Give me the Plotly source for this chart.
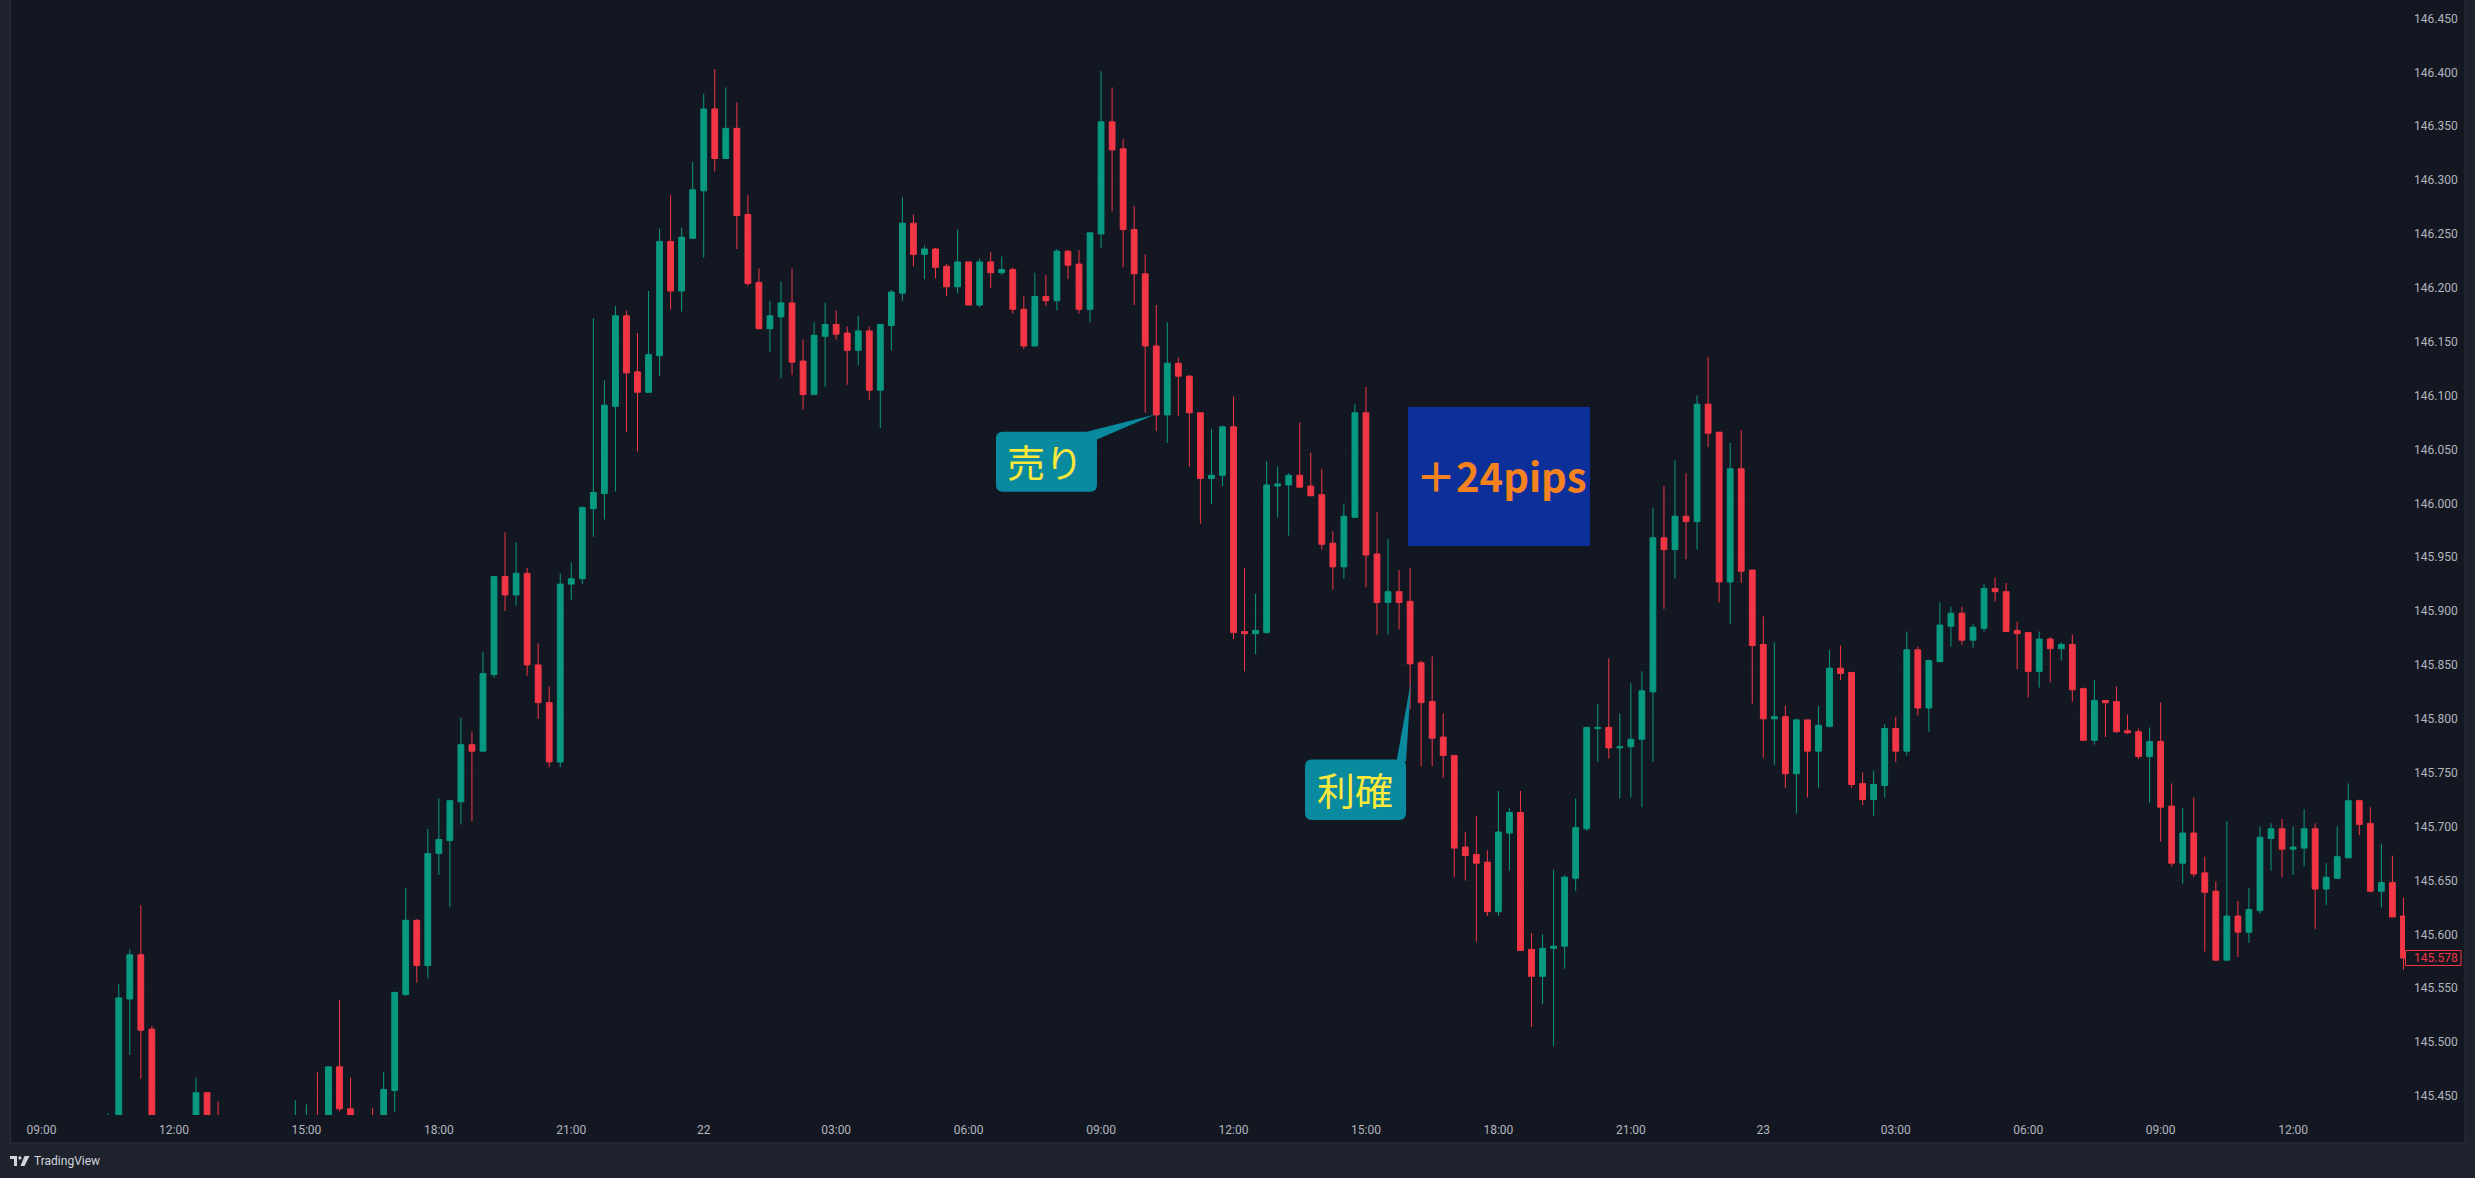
import plotly.graph_objects as go
import pandas as pd

# ---------------- data (15-minute USD/JPY bars, index = bars since 21日 09:00) ----------------
START = pd.Timestamp("2023-08-21 09:00")
STEP = pd.Timedelta(minutes=15)

bar_index = [6, 7, 8, 9, 10, 14, 15, 16, 23, 24, 25, 26, 27, 28, 30, 31, 32, 33, 34, 35,
             36, 37, 38, 39, 40, 41, 42, 43, 44, 45, 46, 47, 48, 49, 50, 51, 52, 53, 54, 55,
             56, 57, 58, 59, 60, 61, 62, 63, 64, 65, 66, 67, 68, 69, 70, 71, 72, 73, 74, 75,
             76, 77, 78, 79, 80, 81, 82, 83, 84, 85, 86, 87, 88, 89, 90, 91, 92, 93, 94, 95,
             96, 97, 98, 99, 100, 101, 102, 103, 104, 105, 106, 107, 108, 109, 110, 111, 112, 113, 114, 115,
             116, 117, 118, 119, 120, 121, 122, 123, 124, 125, 126, 127, 128, 129, 130, 131, 132, 133, 134, 135,
             136, 137, 138, 139, 140, 141, 142, 143, 144, 145, 146, 147, 148, 149, 150, 151, 152, 153, 154, 155,
             156, 157, 158, 159, 160, 161, 162, 163, 164, 165, 166, 167, 168, 169, 170, 171, 172, 173, 174, 175,
             176, 177, 178, 179, 180, 181, 182, 183, 184, 185, 186, 187, 188, 189, 190, 191, 192, 193, 194, 195,
             196, 197, 198, 199, 200, 201, 202, 203, 204, 205, 206, 207, 208, 209, 210, 211, 212, 213, 214]

opens = [145.405, 145.420, 145.540, 145.581, 145.512, 145.420, 145.453, 145.425, 145.410, 145.420,
         145.425, 145.415, 145.477, 145.438, 145.425, 145.420, 145.455, 145.544, 145.613, 145.571,
         145.675, 145.687, 145.723, 145.776, 145.770, 145.841, 145.932, 145.915, 145.935, 145.850,
         145.815, 145.760, 145.925, 145.930, 145.995, 146.009, 146.090, 146.174, 146.122, 146.103,
         146.137, 146.243, 146.197, 146.246, 146.290, 146.366, 146.320, 146.348, 146.268, 146.205,
         146.162, 146.173, 146.186, 146.132, 146.101, 146.155, 146.166, 146.158, 146.142, 146.160,
         146.105, 146.165, 146.195, 146.260, 146.231, 146.236, 146.220, 146.201, 146.224, 146.184,
         146.224, 146.214, 146.217, 146.180, 146.146, 146.192, 146.188, 146.234, 146.222, 146.180,
         146.250, 146.354, 146.329, 146.254, 146.213, 146.146, 146.082, 146.130, 146.118, 146.084,
         146.023, 146.026, 146.071, 145.881, 145.879, 145.880, 146.016, 146.017, 146.026, 146.016,
         146.008, 145.963, 145.941, 145.987, 146.084, 145.953, 145.908, 145.918, 145.909, 145.852,
         145.816, 145.783, 145.766, 145.681, 145.674, 145.667, 145.621, 145.694, 145.713, 145.586,
         145.561, 145.587, 145.589, 145.652, 145.698, 145.791, 145.792, 145.773, 145.774, 145.781,
         145.825, 145.968, 145.957, 145.988, 145.983, 146.092, 146.066, 145.927, 146.032, 145.938,
         145.869, 145.800, 145.802, 145.749, 145.799, 145.770, 145.793, 145.847, 145.843, 145.740,
         145.725, 145.738, 145.791, 145.770, 145.864, 145.810, 145.853, 145.886, 145.898, 145.873,
         145.884, 145.921, 145.918, 145.882, 145.880, 145.844, 145.874, 145.865, 145.869, 145.828,
         145.780, 145.817, 145.816, 145.789, 145.788, 145.765, 145.779, 145.719, 145.666, 145.694,
         145.657, 145.640, 145.576, 145.617, 145.602, 145.622, 145.689, 145.698, 145.679, 145.680,
         145.698, 145.642, 145.652, 145.671, 145.724, 145.703, 145.640, 145.648, 145.617]

highs = [145.434, 145.554, 145.586, 145.627, 145.515, 145.467, 145.453, 145.445, 145.446, 145.442,
         145.472, 145.477, 145.539, 145.467, 145.439, 145.472, 145.547, 145.643, 145.614, 145.698,
         145.726, 145.724, 145.801, 145.788, 145.862, 145.932, 145.973, 145.964, 145.940, 145.870,
         145.830, 145.935, 145.945, 145.997, 146.172, 146.114, 146.183, 146.179, 146.158, 146.197,
         146.255, 146.286, 146.256, 146.317, 146.380, 146.403, 146.386, 146.372, 146.286, 146.218,
         146.188, 146.206, 146.218, 146.152, 146.168, 146.186, 146.179, 146.164, 146.174, 146.164,
         146.166, 146.198, 146.284, 146.268, 146.239, 146.237, 146.222, 146.254, 146.224, 146.227,
         146.233, 146.229, 146.219, 146.192, 146.214, 146.212, 146.236, 146.235, 146.235, 146.251,
         146.401, 146.386, 146.338, 146.276, 146.231, 146.184, 146.168, 146.135, 146.119, 146.084,
         146.069, 146.072, 146.099, 145.940, 145.916, 146.039, 146.034, 146.028, 146.075, 146.047,
         146.032, 145.974, 145.999, 146.092, 146.108, 145.992, 145.967, 145.938, 145.940, 145.854,
         145.858, 145.805, 145.766, 145.695, 145.710, 145.678, 145.733, 145.717, 145.733, 145.601,
         145.600, 145.660, 145.655, 145.726, 145.792, 145.814, 145.856, 145.805, 145.833, 145.844,
         145.996, 146.016, 146.040, 146.028, 146.100, 146.136, 146.066, 146.056, 146.068, 145.938,
         145.895, 145.871, 145.812, 145.800, 145.799, 145.812, 145.864, 145.868, 145.843, 145.750,
         145.752, 145.795, 145.802, 145.881, 145.867, 145.855, 145.908, 145.904, 145.904, 145.888,
         145.925, 145.931, 145.926, 145.890, 145.880, 145.881, 145.876, 145.871, 145.878, 145.829,
         145.836, 145.817, 145.830, 145.804, 145.791, 145.792, 145.815, 145.740, 145.717, 145.727,
         145.672, 145.649, 145.705, 145.631, 145.643, 145.700, 145.703, 145.707, 145.700, 145.716,
         145.703, 145.666, 145.700, 145.740, 145.725, 145.718, 145.684, 145.673, 145.634]

lows = [145.400, 145.410, 145.488, 145.466, 145.400, 145.410, 145.405, 145.400, 145.400, 145.405,
        145.405, 145.405, 145.436, 145.415, 145.405, 145.410, 145.435, 145.543, 145.555, 145.559,
        145.655, 145.625, 145.702, 145.705, 145.770, 145.838, 145.900, 145.905, 145.840, 145.800,
        145.755, 145.755, 145.910, 145.925, 145.969, 145.985, 146.011, 146.066, 146.048, 146.103,
        146.118, 146.180, 146.178, 146.246, 146.228, 146.308, 146.320, 146.236, 146.202, 146.162,
        146.140, 146.116, 146.119, 146.087, 146.101, 146.108, 146.152, 146.110, 146.128, 146.096,
        146.070, 146.142, 146.188, 146.220, 146.208, 146.209, 146.192, 146.195, 146.184, 146.182,
        146.200, 146.212, 146.176, 146.143, 146.146, 146.183, 146.179, 146.208, 146.176, 146.168,
        146.237, 146.271, 146.219, 146.184, 146.084, 146.067, 146.056, 146.081, 146.034, 145.981,
        145.999, 146.016, 145.874, 145.844, 145.860, 145.879, 145.987, 145.970, 146.014, 146.007,
        145.957, 145.920, 145.930, 145.987, 145.922, 145.878, 145.878, 145.883, 145.809, 145.756,
        145.756, 145.745, 145.653, 145.650, 145.593, 145.617, 145.617, 145.659, 145.585, 145.514,
        145.535, 145.496, 145.568, 145.640, 145.696, 145.760, 145.763, 145.726, 145.727, 145.718,
        145.760, 145.902, 145.930, 145.948, 145.957, 146.052, 145.908, 145.888, 145.926, 145.814,
        145.764, 145.757, 145.736, 145.712, 145.727, 145.736, 145.792, 145.836, 145.736, 145.720,
        145.710, 145.727, 145.760, 145.766, 145.803, 145.788, 145.853, 145.867, 145.869, 145.866,
        145.881, 145.909, 145.881, 145.846, 145.820, 145.829, 145.834, 145.854, 145.816, 145.780,
        145.776, 145.783, 145.787, 145.786, 145.763, 145.722, 145.686, 145.663, 145.647, 145.653,
        145.584, 145.576, 145.576, 145.579, 145.592, 145.619, 145.659, 145.653, 145.655, 145.663,
        145.605, 145.627, 145.652, 145.671, 145.692, 145.639, 145.625, 145.616, 145.567]

closes = [145.425, 145.541, 145.581, 145.511, 145.410, 145.453, 145.415, 145.410, 145.420, 145.425,
          145.415, 145.477, 145.438, 145.425, 145.415, 145.456, 145.546, 145.613, 145.571, 145.675,
          145.688, 145.724, 145.776, 145.770, 145.842, 145.932, 145.915, 145.935, 145.850, 145.815,
          145.760, 145.925, 145.930, 145.996, 146.010, 146.091, 146.174, 146.121, 146.103, 146.138,
          146.243, 146.197, 146.247, 146.291, 146.366, 146.320, 146.348, 146.267, 146.204, 146.162,
          146.174, 146.186, 146.131, 146.101, 146.156, 146.166, 146.157, 146.142, 146.160, 146.105,
          146.166, 146.196, 146.260, 146.231, 146.236, 146.219, 146.201, 146.224, 146.184, 146.224,
          146.214, 146.217, 146.180, 146.146, 146.192, 146.188, 146.234, 146.221, 146.180, 146.251,
          146.354, 146.328, 146.254, 146.213, 146.146, 146.082, 146.130, 146.118, 146.084, 146.023,
          146.026, 146.071, 145.880, 145.879, 145.882, 146.017, 146.018, 146.026, 146.015, 146.007,
          145.962, 145.941, 145.988, 146.084, 145.952, 145.908, 145.918, 145.908, 145.851, 145.815,
          145.782, 145.766, 145.680, 145.673, 145.666, 145.621, 145.695, 145.713, 145.585, 145.561,
          145.587, 145.589, 145.653, 145.699, 145.792, 145.792, 145.773, 145.774, 145.781, 145.826,
          145.968, 145.957, 145.988, 145.983, 146.092, 146.065, 145.927, 146.032, 145.937, 145.868,
          145.800, 145.802, 145.749, 145.799, 145.770, 145.794, 145.847, 145.842, 145.739, 145.725,
          145.739, 145.791, 145.770, 145.864, 145.810, 145.854, 145.887, 145.898, 145.873, 145.885,
          145.921, 145.918, 145.881, 145.879, 145.844, 145.874, 145.865, 145.869, 145.827, 145.780,
          145.817, 145.815, 145.788, 145.787, 145.765, 145.779, 145.718, 145.666, 145.694, 145.656,
          145.639, 145.576, 145.617, 145.602, 145.623, 145.690, 145.698, 145.679, 145.681, 145.698,
          145.642, 145.653, 145.672, 145.724, 145.702, 145.640, 145.648, 145.616, 145.578]

last_price = 145.578
price_ticks = [145.45, 145.50, 145.55, 145.60, 145.65, 145.70, 145.75, 145.80, 145.85, 145.90, 145.95,
               146.00, 146.05, 146.10, 146.15, 146.20, 146.25, 146.30, 146.35, 146.40, 146.45]
time_tick_bars = [0, 12, 24, 36, 48, 60, 72, 84, 96, 108, 120, 132, 144, 156, 168, 180, 192, 204]
time_tick_text = ["09:00", "12:00", "15:00", "18:00", "21:00", "22", "03:00", "06:00", "09:00",
                  "12:00", "15:00", "18:00", "21:00", "23", "03:00", "06:00", "09:00", "12:00"]

# ---------------- styling ----------------
W, H = 2475, 1178
ML, MR, MT, MB = 11, 70, 0, 63
UP, DOWN = "#089981", "#f23645"
PANE_BG, OUTER_BG, BORDER = "#131722", "#1e222d", "#2a2e39"
TICK_COLOR = "#b2b5be"
CALLOUT_BG, CALLOUT_TXT = "#0a8a9e", "#fbe83b"
PIPS_BG, PIPS_TXT = "#0c2f9a", "#f4821f"


def tx(k):
    return START + STEP * k


def ts(k):
    return tx(k).strftime("%Y-%m-%d_%H:%M:%S")


PLOT_W = W - ML - MR
PLOT_H = H - MT - MB
X_RANGE = (-2.763, 214.14)
Y_RANGE = (145.4323, 146.4671)
PX_PER_BAR = PLOT_W / (X_RANGE[1] - X_RANGE[0])
PX_PER_PRICE = PLOT_H / (Y_RANGE[1] - Y_RANGE[0])


def px_x(px):
    return (px - ML) / PLOT_W


def px_y(py):
    return (H - MB - py) / PLOT_H


times = [tx(k) for k in bar_index]

fig = go.Figure()
fig.add_trace(go.Candlestick(
    x=times, open=opens, high=highs, low=lows, close=closes,
    increasing=dict(line=dict(color=UP, width=1), fillcolor=UP),
    decreasing=dict(line=dict(color=DOWN, width=1), fillcolor=DOWN),
    whiskerwidth=0, hoverinfo="skip", showlegend=False,
))

shapes = []
# chart pane (incl. axes areas)
shapes.append(dict(type="rect", xref="paper", yref="paper", layer="below",
                   x0=px_x(10.5), x1=px_x(2465), y0=px_y(1143), y1=px_y(-2),
                   fillcolor=PANE_BG, line=dict(color=BORDER, width=1)))


def rounded_rect(k0, k1, p0, p1, r_px):
    rx = r_px / PX_PER_BAR
    ry = r_px / PX_PER_PRICE
    return (f"M {ts(k0 + rx)},{p1} L {ts(k1 - rx)},{p1} Q {ts(k1)},{p1} {ts(k1)},{p1 - ry} "
            f"L {ts(k1)},{p0 + ry} Q {ts(k1)},{p0} {ts(k1 - rx)},{p0} "
            f"L {ts(k0 + rx)},{p0} Q {ts(k0)},{p0} {ts(k0)},{p0 + ry} "
            f"L {ts(k0)},{p1 - ry} Q {ts(k0)},{p1} {ts(k0 + rx)},{p1} Z")


def tri(pts):
    a, b, c = pts
    return f"M {ts(a[0])},{a[1]} L {ts(b[0])},{b[1]} L {ts(c[0])},{c[1]} Z"


# 売り callout
shapes.append(dict(type="path", xref="x", yref="y", path=rounded_rect(86.48, 95.63, 146.0107, 146.0665, 7),
                   fillcolor=CALLOUT_BG, line=dict(width=0)))
shapes.append(dict(type="path", xref="x", yref="y",
                   path=tri([(94.7, 146.0665), (100.9, 146.0823), (95.63, 146.0591)]),
                   fillcolor=CALLOUT_BG, line=dict(width=0)))
# 利確 callout
shapes.append(dict(type="path", xref="x", yref="y", path=rounded_rect(114.48, 123.63, 145.7060, 145.7623, 7),
                   fillcolor=CALLOUT_BG, line=dict(width=0)))
shapes.append(dict(type="path", xref="x", yref="y",
                   path=tri([(122.8, 145.7623), (124.08, 145.8347), (123.63, 145.7602)]),
                   fillcolor=CALLOUT_BG, line=dict(width=0)))
# +24pips box
shapes.append(dict(type="rect", xref="x", yref="y", x0=tx(123.81), x1=tx(140.30), y0=145.9604, y1=146.0894,
                   fillcolor=PIPS_BG, line=dict(width=0)))
# last price label box
half = 7.5 / PX_PER_PRICE
shapes.append(dict(type="rect", xref="paper", yref="y", x0=px_x(2405.5), x1=px_x(2461), y0=last_price - half,
                   y1=last_price + half, fillcolor=PANE_BG, line=dict(color=DOWN, width=1)))
# TradingView logo
shapes.append(dict(type="path", xref="paper", yref="paper",
                   path=(f"M {px_x(10)},{px_y(1156)} L {px_x(17)},{px_y(1156)} L {px_x(17)},{px_y(1166)} "
                         f"L {px_x(14)},{px_y(1166)} L {px_x(14)},{px_y(1159)} L {px_x(10)},{px_y(1159)} Z"),
                   fillcolor="#d1d4dc", line=dict(width=0)))
shapes.append(dict(type="circle", xref="paper", yref="paper", x0=px_x(18.3), x1=px_x(21.5),
                   y0=px_y(1159.5), y1=px_y(1156.3), fillcolor="#d1d4dc", line=dict(width=0)))
shapes.append(dict(type="path", xref="paper", yref="paper",
                   path=(f"M {px_x(24.5)},{px_y(1156)} L {px_x(29.5)},{px_y(1156)} L {px_x(24.5)},{px_y(1166)} "
                         f"L {px_x(20.5)},{px_y(1166)} Z"),
                   fillcolor="#d1d4dc", line=dict(width=0)))

annotations = [
    dict(x=tx(90.9), y=146.040, xref="x", yref="y", text="売り", showarrow=False,
         font=dict(family="Noto Sans CJK JP", size=38, color=CALLOUT_TXT)),
    dict(x=tx(119.05), y=145.735, xref="x", yref="y", text="利確", showarrow=False,
         font=dict(family="Noto Sans CJK JP", size=38, color=CALLOUT_TXT)),
    dict(x=tx(132.2), y=146.026, xref="x", yref="y", text="＋24pips", showarrow=False,
         font=dict(family="Noto Sans CJK JP", size=40, color=PIPS_TXT, weight="bold")),
    dict(x=px_x(2412), y=last_price, xref="paper", yref="y", text=f"{last_price:.3f}", showarrow=False,
         xanchor="left", yanchor="middle", font=dict(family="Roboto", size=12, color=DOWN)),
    dict(x=px_x(32), y=px_y(1161), xref="paper", yref="paper", text="TradingView", showarrow=False,
         xanchor="left", yanchor="middle", font=dict(family="Roboto", size=12, color="#d1d4dc")),
]

fig.update_layout(
    width=W, height=H, autosize=False,
    margin=dict(l=ML, r=MR, t=MT, b=MB, pad=0),
    paper_bgcolor=OUTER_BG, plot_bgcolor=PANE_BG,
    boxgap=0.25,
    shapes=shapes, annotations=annotations,
    showlegend=False, hovermode=False,
    xaxis=dict(type="date", range=[tx(X_RANGE[0]), tx(X_RANGE[1])],
               rangeslider=dict(visible=False), showgrid=False, zeroline=False, showline=False,
               tickvals=[tx(k) for k in time_tick_bars], ticktext=time_tick_text, ticks="",
               tickfont=dict(family="Roboto", size=12, color=TICK_COLOR), ticklabelstandoff=6),
    yaxis=dict(side="right", range=list(Y_RANGE), showgrid=True, gridcolor="#171b26", gridwidth=1,
               zeroline=False, showline=False, ticks="",
               tickvals=price_ticks, ticktext=[f"{v:.3f}" for v in price_ticks],
               tickfont=dict(family="Roboto", size=12, color=TICK_COLOR), ticklabelstandoff=8),
)

fig.write_html("out.html")
